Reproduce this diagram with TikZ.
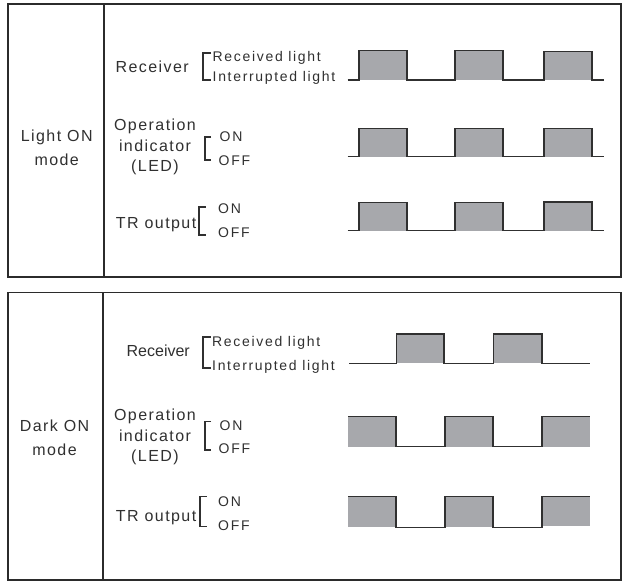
\documentclass[tikz,border=0pt]{standalone}
\usepackage{fontspec}
\setmainfont{Liberation Sans}
\newfontfamily\labfont{Liberation Sans}[LetterSpace=9]
\newfontfamily\tightfont{Liberation Sans}
\newfontfamily\smallfont{Liberation Sans}[LetterSpace=12]
\definecolor{frame}{HTML}{2B2B2B}
\definecolor{trace}{HTML}{303030}
\definecolor{pulsefill}{HTML}{A7A8AC}
\tikzset{
  panel/.style={draw=frame, line width=1.5pt},
  wave/.style={draw=trace, line width=1.2pt, line join=miter},
  pulse/.style={fill=pulsefill},
  brk/.style={draw=trace, line width=1.1pt},
  big/.style={inner sep=0pt, anchor=base, font=\labfont\fontsize{16}{19}\selectfont, text=trace},
  bigr/.style={big, anchor=base east},
  small/.style={inner sep=0pt, anchor=base west, font=\smallfont\fontsize{14}{17}\selectfont, text=trace}
}
\begin{document}
\begin{tikzpicture}[x=1pt,y=-1pt]
\useasboundingbox (0,0) rectangle (624,581);
\fill[white] (0,0) rectangle (624,581);

% ---------- Light ON mode ----------
\draw[panel] (8,4) rectangle (621,277);
\draw[panel] (104,4) -- (104,277);
\node[big] (lonA) at (56.7,141.7) {Light ON};
\node[big] (lonB) at (56.7,165.7) {mode};

\node[bigr] (lrcv) at (189,72.5) {Receiver};
\draw[brk] (211,53) -- (203,53) -- (203,80) -- (211,80);
\node[small] (lrl) at (212.5,61) {Received light};
\node[small] (lil) at (212.5,81) {Interrupted light};

\node[big] (lopA) at (155,130) {Operation};
\node[big] (lopB) at (155,151.7) {indicator};
\node[big] (lopC) at (155,171.7) {(LED)};
\draw[brk] (211,137) -- (205,137) -- (205,160) -- (211,160);
\node[small] (lon1) at (219.5,141.7) {ON};
\node[small] (loff1) at (218.5,165) {OFF};

\node[bigr] (ltr) at (196.5,228.3) {TR output};
\draw[brk] (205.5,207) -- (199,207) -- (199,235) -- (205.5,235);
\node[small] (lon2) at (218,213.3) {ON};
\node[small] (loff2) at (218,237.3) {OFF};

% receiver trace
\fill[pulse] (359,50.7) rectangle (407,80);
\fill[pulse] (455,50.7) rectangle (503,80);
\fill[pulse] (544,51.7) rectangle (592,80);
\draw[wave] (347.5,80) -- (359,80) -- (359,50.7) -- (407,50.7) -- (407,80)
  -- (455,80) -- (455,50.7) -- (503,50.7) -- (503,80)
  -- (544,80) -- (544,51.7) -- (592,51.7) -- (592,80) -- (604,80);
% indicator trace
\fill[pulse] (359,128.3) rectangle (407,156.7);
\fill[pulse] (455,128.3) rectangle (503,156.7);
\fill[pulse] (544,128.8) rectangle (592,156.7);
\draw[wave] (347.5,156.7) -- (359,156.7) -- (359,128.3) -- (407,128.3) -- (407,156.7)
  -- (455,156.7) -- (455,128.3) -- (503,128.3) -- (503,156.7)
  -- (544,156.7) -- (544,128.8) -- (592,128.8) -- (592,156.7) -- (604,156.7);
% output trace
\fill[pulse] (359,202.3) rectangle (407,230.7);
\fill[pulse] (455,202.3) rectangle (503,230.7);
\fill[pulse] (544,202) rectangle (592,230.7);
\draw[wave] (347.5,230.7) -- (359,230.7) -- (359,202.3) -- (407,202.3) -- (407,230.7)
  -- (455,230.7) -- (455,202.3) -- (503,202.3) -- (503,230.7)
  -- (544,230.7) -- (544,202) -- (592,202) -- (592,230.7) -- (604,230.7);

% ---------- Dark ON mode ----------
\draw[panel] (8,292.5) rectangle (621,580);
\draw[panel] (103,292.5) -- (103,580);
\node[big] (donA) at (54.5,431.7) {Dark ON};
\node[big] (donB) at (54.5,455.7) {mode};

\node[bigr, font=\tightfont\fontsize{16}{19}\selectfont] (drcv) at (190,356.7) {Receiver};
\draw[brk] (210.5,337) -- (203,337) -- (203,368) -- (210.5,368);
\node[small] (drl) at (212,346.7) {Received light};
\node[small] (dil) at (212,370) {Interrupted light};

\node[big] (dopA) at (155,420) {Operation};
\node[big] (dopB) at (155,441.7) {indicator};
\node[big] (dopC) at (155,461.7) {(LED)};
\draw[brk] (211,421.7) -- (205,421.7) -- (205,450) -- (211,450);
\node[small] (don1) at (219.5,430) {ON};
\node[small] (doff1) at (218.5,453.3) {OFF};

\node[bigr] (dtr) at (196.5,521.7) {TR output};
\draw[brk] (206.5,496.7) -- (200,496.7) -- (200,526.7) -- (206.5,526.7);
\node[small] (don2) at (218,506.7) {ON};
\node[small] (doff2) at (218,530) {OFF};

% receiver trace
\fill[pulse] (396.7,334) rectangle (444,363.3);
\fill[pulse] (493.3,334) rectangle (542,363.3);
\draw[wave] (349,363.3) -- (396.7,363.3) -- (396.7,334) -- (444,334) -- (444,363.3)
  -- (493.3,363.3) -- (493.3,334) -- (542,334) -- (542,363.3) -- (590,363.3);
% indicator trace
\fill[pulse] (348,416.7) rectangle (396,446.7);
\fill[pulse] (445,416.7) rectangle (493,446.7);
\fill[pulse] (542,416.7) rectangle (590,446.7);
\draw[wave] (348,416.7) -- (396,416.7) -- (396,446.7) -- (445,446.7) -- (445,416.7)
  -- (493,416.7) -- (493,446.7) -- (542,446.7) -- (542,416.7) -- (590,416.7);
% output trace
\fill[pulse] (348,496.7) rectangle (396,527.3);
\fill[pulse] (445,496.7) rectangle (493,527.3);
\fill[pulse] (542,496.7) rectangle (590,525.5);
\draw[wave] (348,496.7) -- (396,496.7) -- (396,527.3) -- (445,527.3) -- (445,496.7)
  -- (493,496.7) -- (493,527.3) -- (542,527.3) -- (542,496.7) -- (590,496.7);
\end{tikzpicture}
\end{document}
